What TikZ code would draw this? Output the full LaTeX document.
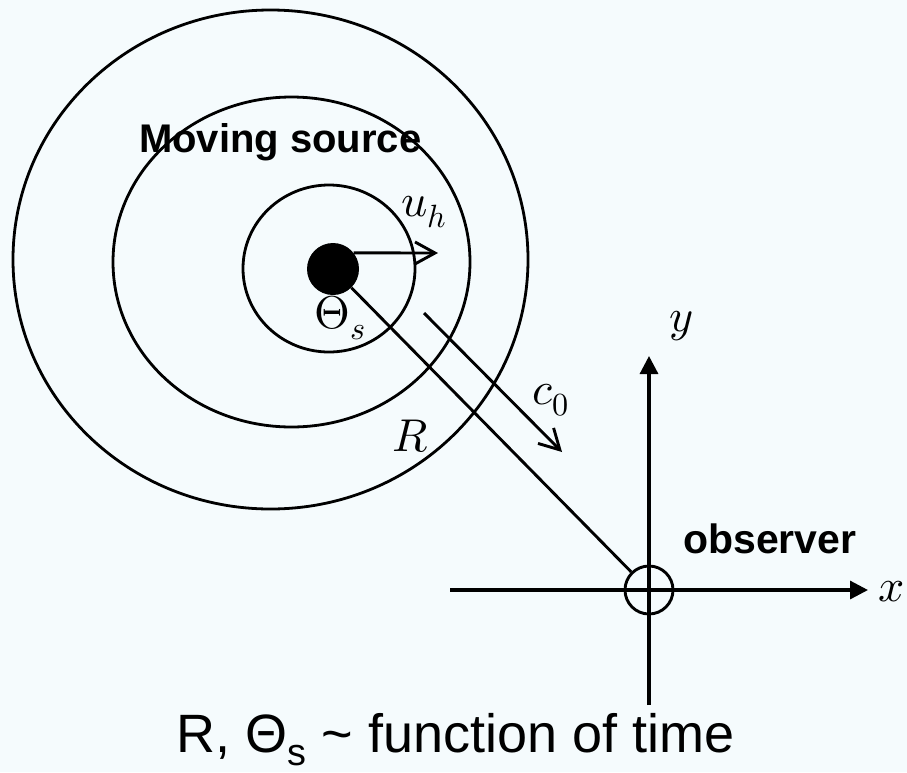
\documentclass[tikz,border=0pt]{standalone}
\usepackage{fontspec}
\usepackage{unicode-math}
\setmainfont{Liberation Sans}
\setmathfont{Latin Modern Math}
\usetikzlibrary{arrows.meta}
\definecolor{bgblue}{RGB}{245,251,253}
\begin{document}
\begin{tikzpicture}[x=1pt,y=-1pt,
  wave/.style={line width=2.8pt},
  axisline/.style={line width=3.2pt,-{Triangle[length=18pt,width=18pt]}},
  barbarrow/.style={line width=2.9pt,-{Straight Barb[length=20pt,width=22pt]}},
  mlabel/.style={font=\fontsize{46}{50}\selectfont,inner sep=0pt},
  blabel/.style={font=\fontsize{40}{44}\selectfont\bfseries,inner sep=0pt,anchor=base west},
  dotsrc/.style={circle,fill=black,minimum size=52pt,inner sep=0pt},
  obsring/.style={circle,draw,line width=2.9pt,minimum size=48pt,inner sep=0pt}]
\useasboundingbox (0,0) rectangle (907,772);
\fill[bgblue] (0,0) rectangle (907,772);
% wavefronts
\draw[wave] (270.5,259.5) ellipse [x radius=257.5,y radius=249.5];
\draw[wave] (291.5,262) ellipse [x radius=178.5,y radius=165];
\draw[wave] (329,268.5) ellipse [x radius=86,y radius=83.5];
% source and observer
\node[dotsrc] (src) at (333,269) {};
\node[obsring] (obs) at (649,590) {};
% axes
\coordinate (xa) at (450,590);
\coordinate (xb) at (868,590);
\coordinate (ya) at (649,705);
\coordinate (yb) at (649,356);
\draw[axisline] (xa) -- (xb);
\draw[axisline] (ya) -- (yb);
% R line
\draw[line width=2.9pt] (src) -- (obs);
% u_h arrow
\coordinate (uhend) at (438,253);
\draw[barbarrow] (src.38) -- (uhend);
% c0 arrow
\coordinate (ca) at (424,313);
\coordinate (cb) at (562,452);
\draw[barbarrow] (ca) -- (cb);
% labels
\node[blabel] (ms) at (139,152) {Moving source};
\node[blabel,font=\fontsize{41}{44}\selectfont\bfseries] (ob) at (683,553) {observer};
\node[mlabel] (uh) at (424,212) {$u_h$};
\node[mlabel] (th) at (340,318) {$\Theta_s$};
\node[mlabel] (rl) at (411,436) {$R$};
\node[mlabel] (cl) at (551,400) {$c_0$};
\node[mlabel] (yl) at (681,326) {$y$};
\node[mlabel,anchor=east] (xl) at (905,592) {$x$};
\node[inner sep=0pt,anchor=base west,font=\fontsize{54}{58}\selectfont] (bt) at (176,752)
  {R, Θ\textsubscript{s} \textasciitilde\ function of time};
\end{tikzpicture}
\end{document}
